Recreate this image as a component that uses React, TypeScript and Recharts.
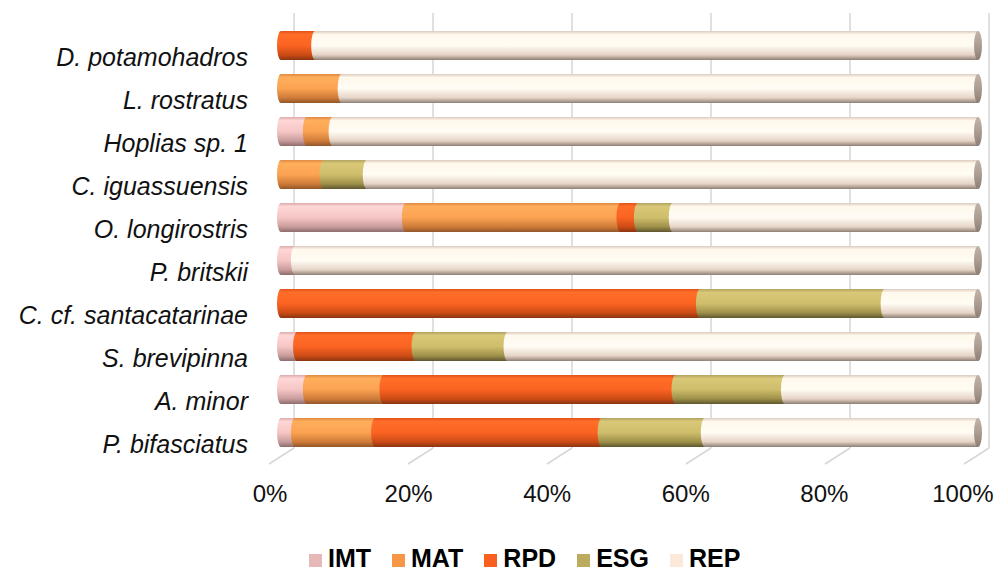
import { BarChart, Bar, XAxis, YAxis, CartesianGrid, ReferenceLine, Legend } from "recharts";

const categories = [
  "D. potamohadros",
  "L. rostratus",
  "Hoplias sp. 1",
  "C. iguassuensis",
  "O. longirostris",
  "P. britskii",
  "C. cf. santacatarinae",
  "S. brevipinna",
  "A. minor",
  "P. bifasciatus",
];
const imt = [0, 0, 3.7, 0, 17.9, 2.0, 0, 2.3, 3.7, 2.0];
const mat = [0, 8.7, 3.7, 6.1, 30.8, 0, 0, 0, 11.0, 11.5];
const rpd = [4.9, 0, 0, 0, 2.5, 0, 60.1, 17.0, 41.9, 32.5];
const esg = [0, 0, 0, 6.2, 5.0, 0, 26.5, 13.2, 15.7, 14.8];
const rep = [95.1, 91.3, 92.6, 87.7, 43.8, 98.0, 13.4, 67.5, 27.7, 39.2];
const pctTicks = [0, 20, 40, 60, 80, 100];

const data = categories.map((name, i) => ({
  name,
  IMT: imt[i],
  MAT: mat[i],
  RPD: rpd[i],
  ESG: esg[i],
  REP: rep[i],
}));

// gradient stops per series: top edge, highlight, body, shade, bottom edge
const series = [
  { key: "IMT", legend: "#e6b9b8", stops: ["#dcaaaa", "#ffd6d6", "#f6c6c6", "#c89c9c", "#8c6c6c"] },
  { key: "MAT", legend: "#f79646", stops: ["#e08a42", "#ffae5c", "#fba352", "#cf7c3a", "#925628"] },
  { key: "RPD", legend: "#f95f1f", stops: ["#e0521a", "#ff6e28", "#fb6322", "#cc4c16", "#8a3410"] },
  { key: "ESG", legend: "#bbab5f", stops: ["#b2a262", "#d8c877", "#cebe6c", "#9e9049", "#5f5630"] },
  { key: "REP", legend: "#fde9d9", stops: ["#dccbbe", "#fff8ec", "#fffcf4", "#e6d4c6", "#8e7e74"] },
];

const GRID_DOMAIN = [-4.173, 100.14];
const GRID_COLOR = "#d6d6d6";

function Cylinder(props: any) {
  const { x, y, width, height, gid, cap } = props;
  if (!width || width < 0.3) return null;
  const rx = 4;
  const ry = height / 2;
  const d = `M${x},${y} H${x + width} V${y + height} H${x} A${rx},${ry} 0 0 1 ${x},${y} Z`;
  return (
    <g>
      <path d={d} fill={`url(#${gid})`} />
      {cap && <ellipse cx={x + width} cy={y + ry} rx={rx} ry={ry} fill="url(#capGrad)" />}
    </g>
  );
}

// floor edge running from the back wall to the front (3D look)
function FloorLine(props: any) {
  const { x1, y1, y2 } = props;
  const bottom = Math.max(y1, y2);
  return (
    <line x1={x1} y1={bottom - 16} x2={x1 - 25} y2={bottom} stroke={GRID_COLOR} strokeWidth={1.5} />
  );
}

// only the percentage positions, no extra lines at the plot edges
const wallLines = ({ xAxis, offset }: any) => {
  if (xAxis && typeof xAxis.scale === "function") {
    return pctTicks.map((t) => xAxis.scale(t));
  }
  const [lo, hi] = GRID_DOMAIN;
  return pctTicks.map((t) => offset.left + ((t - lo) / (hi - lo)) * offset.width);
};

const CategoryTick = ({ x, y, payload }: any) => (
  <text
    x={x}
    y={y + 20}
    textAnchor="end"
    fill="#111"
    fontSize={25}
    fontStyle="italic"
    fontFamily="'Liberation Sans', Arial, sans-serif"
  >
    {payload.value}
  </text>
);

const PercentTick = ({ x, y, payload }: any) => (
  <text
    x={x}
    y={y + 38}
    textAnchor="middle"
    fill="#111"
    fontSize={24}
    fontFamily="'Liberation Sans', Arial, sans-serif"
  >
    {payload.value}%
  </text>
);

const LegendContent = () => (
  <div
    style={{
      display: "flex",
      alignItems: "center",
      fontFamily: "'Liberation Sans', Arial, sans-serif",
      fontWeight: "bold",
      fontSize: 25,
      lineHeight: "25px",
      color: "#000",
    }}
  >
    {series.map((s) => (
      <div key={s.key} style={{ display: "flex", alignItems: "center", marginRight: 21 }}>
        <span
          style={{
            display: "inline-block",
            width: 13,
            height: 13,
            background: s.legend,
            marginRight: 6,
            position: "relative",
            top: 2,
          }}
        />
        <span>{s.key}</span>
      </div>
    ))}
  </div>
);

export default function App() {
  return (
    <div style={{ position: "absolute", left: 0, top: 0, width: 1000, height: 570, background: "#fff" }}>
      <BarChart
        width={1000}
        height={570}
        data={data}
        layout="vertical"
        margin={{ top: 13, right: 10, bottom: 66, left: 0 }}
      >
        <defs>
          {series.map((s) => (
            <linearGradient key={s.key} id={`g-${s.key}`} x1="0" y1="0" x2="0" y2="1">
              <stop offset="0%" stopColor={s.stops[0]} />
              <stop offset="12%" stopColor={s.stops[1]} />
              <stop offset="50%" stopColor={s.stops[2]} />
              <stop offset="82%" stopColor={s.stops[3]} />
              <stop offset="100%" stopColor={s.stops[4]} />
            </linearGradient>
          ))}
          <linearGradient id="capGrad" x1="0" y1="0" x2="0" y2="1">
            <stop offset="0%" stopColor="#c2b4a8" />
            <stop offset="50%" stopColor="#ab9d92" />
            <stop offset="100%" stopColor="#8c7e74" />
          </linearGradient>
        </defs>

        {/* value axis for the bars (0 sits at the cylinder centre line) */}
        <XAxis xAxisId="main" type="number" domain={[-2.296, 101.72]} allowDataOverflow hide />
        {/* back wall, where the gridlines live */}
        <XAxis xAxisId="grid" type="number" domain={GRID_DOMAIN} ticks={pctTicks} allowDataOverflow hide />
        {/* front edge of the floor, where the labels sit */}
        <XAxis
          xAxisId="front"
          type="number"
          domain={[-0.7215, 103.9]}
          ticks={pctTicks}
          allowDataOverflow
          axisLine={false}
          tickLine={false}
          stroke="none"
          tickSize={0}
          tickMargin={0}
          height={40}
          tick={<PercentTick />}
        />
        <YAxis
          yAxisId="cat"
          type="category"
          dataKey="name"
          width={265}
          axisLine={false}
          tickLine={false}
          stroke="none"
          tickSize={0}
          tickMargin={17}
          padding={{ top: 11, bottom: 10 }}
          interval={0}
          tick={<CategoryTick />}
        />

        <CartesianGrid
          xAxisId="grid"
          yAxisId="cat"
          horizontal={false}
          y={13}
          height={435}
          verticalCoordinatesGenerator={wallLines}
          stroke={GRID_COLOR}
          strokeWidth={1.5}
        />
        {pctTicks.map((t) => (
          <ReferenceLine key={t} x={t} xAxisId="grid" yAxisId="cat" shape={<FloorLine />} />
        ))}

        {series.map((s, i) => (
          <Bar
            key={s.key}
            dataKey={s.key}
            stackId="a"
            xAxisId="main"
            yAxisId="cat"
            barSize={29}
            fill={s.legend}
            isAnimationActive={false}
            shape={(p: any) => <Cylinder {...p} gid={`g-${s.key}`} cap={i === series.length - 1} />}
          />
        ))}

        <Legend
          layout="horizontal"
          verticalAlign="middle"
          align="center"
          wrapperStyle={{ left: 309, top: 546, width: 600 }}
          content={<LegendContent />}
        />
      </BarChart>
    </div>
  );
}
